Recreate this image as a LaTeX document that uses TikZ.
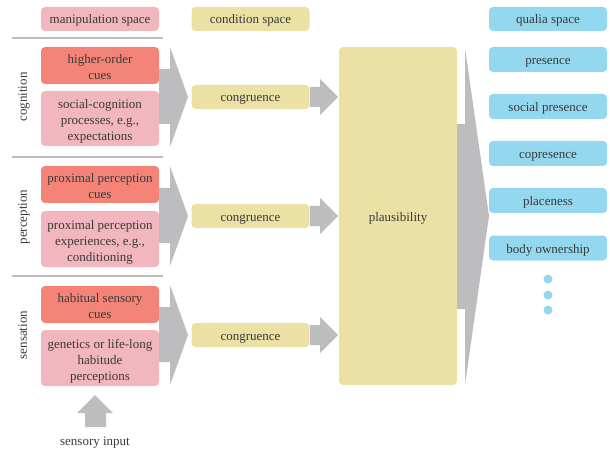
\documentclass[tikz,border=0pt]{standalone}
\usepackage{fontspec}
\setmainfont{Liberation Serif}
\usetikzlibrary{positioning}
\definecolor{manipink}{HTML}{F2B6BE}
\definecolor{cuered}{HTML}{F48478}
\definecolor{condyellow}{HTML}{EBE1A5}
\definecolor{qualblue}{HTML}{93D8EE}
\definecolor{arrowgray}{HTML}{BDBDBF}
\definecolor{textgray}{HTML}{3A3A3A}
\tikzstyle{every node}=[font=\fontsize{13}{16}\selectfont, text=textgray]
\tikzstyle{box}=[rectangle, rounded corners=4pt, inner sep=0pt, minimum width=118pt,
  text height=11pt, text depth=1pt]
\tikzstyle{twolines}=[align=center, text height=29pt, text depth=1pt]
\tikzstyle{threelines}=[align=center, text height=45pt, text depth=1pt]
\tikzstyle{manip}=[box, fill=manipink]
\tikzstyle{cue}=[box, twolines, fill=cuered, minimum height=37pt]
\tikzstyle{cond}=[box, fill=condyellow, minimum height=24pt]
\tikzstyle{qual}=[box, fill=qualblue, minimum height=25pt]
\tikzstyle{layer}=[rotate=90, text height=11pt, text depth=1pt]
\tikzstyle{sep}=[draw=arrowgray, line width=1.5pt]

\begin{document}
\begin{tikzpicture}[x=1pt,y=-1pt]
  \useasboundingbox (0,0) rectangle (610,449);

  % headers
  \node[manip, minimum height=24pt] (manip) at (100,19) {manipulation space};
  \node[cond] (condsp) at (250.5,19) {condition space};
  \node[qual, minimum height=24pt] (qualsp) at (548,19) {qualia space};

  % layer separators
  \foreach \y in {38,157,276}
    \draw[sep] (12,\y) -- (163,\y);

  \node[layer] (cogn) at (22,97) {cognition};
  \node[layer] (perc) at (22,217) {perception};
  \node[layer] (sens) at (22,335) {sensation};

  % manipulation boxes
  \node[cue] (cogcue) at (100,65.5) {higher-order\\cues};
  \node[manip, threelines, minimum height=55pt] (cogexp) at (100,118.5) {social-cognition\\processes, e.g.,\\expectations};
  \node[cue] (perccue) at (100,184.5) {proximal perception\\cues};
  \node[manip, threelines, minimum height=56pt] (percexp) at (100,239) {proximal perception\\experiences, e.g.,\\conditioning};
  \node[cue] (senscue) at (100,304.5) {habitual sensory\\cues};
  \node[manip, threelines, minimum height=56pt] (sensexp) at (100,358) {genetics or life-long\\habitude\\perceptions};

  % congruence and plausibility
  \node[cond] (congcog) at (250.5,97) {congruence};
  \node[cond] (congperc) at (250.5,216) {congruence};
  \node[cond] (congsens) at (250.5,335) {congruence};
  \node[box, fill=condyellow, minimum height=338pt] (plaus) at (398,216) {plausibility};

  % fat arrows
  \foreach \ym in {97,216,335} {
    \fill[arrowgray] (159,{\ym-28}) -- (170,{\ym-28}) -- (170,{\ym-50}) -- (188,\ym)
      -- (170,{\ym+50}) -- (170,{\ym+27}) -- (159,{\ym+27}) -- cycle;
    \fill[arrowgray] (310,{\ym-10}) -- (320,{\ym-10}) -- (320,{\ym-18}) -- (338,\ym)
      -- (320,{\ym+18}) -- (320,{\ym+10}) -- (310,{\ym+10}) -- cycle;
  }
  \fill[arrowgray] (457,124) -- (465,124) -- (465,48) -- (489,216) -- (465,385)
    -- (465,309) -- (457,309) -- cycle;

  % qualia
  \node[qual] (pres) at (548,59.5) {presence};
  \node[qual] (socpres) at (548,106.5) {social presence};
  \node[qual] (copres) at (548,153.5) {copresence};
  \node[qual] (place) at (548,200.5) {placeness};
  \node[qual] (body) at (548,248) {body ownership};
  \foreach \y in {279,295,310}
    \fill[qualblue] (548,\y) circle (4.5pt);

  % sensory input
  \fill[arrowgray] (85,427) -- (85,413) -- (77,413) -- (95,395) -- (113,413)
    -- (106,413) -- (106,427) -- cycle;
  \node[text height=11pt, text depth=1pt] (input) at (95,440) {sensory input};
\end{tikzpicture}
\end{document}
